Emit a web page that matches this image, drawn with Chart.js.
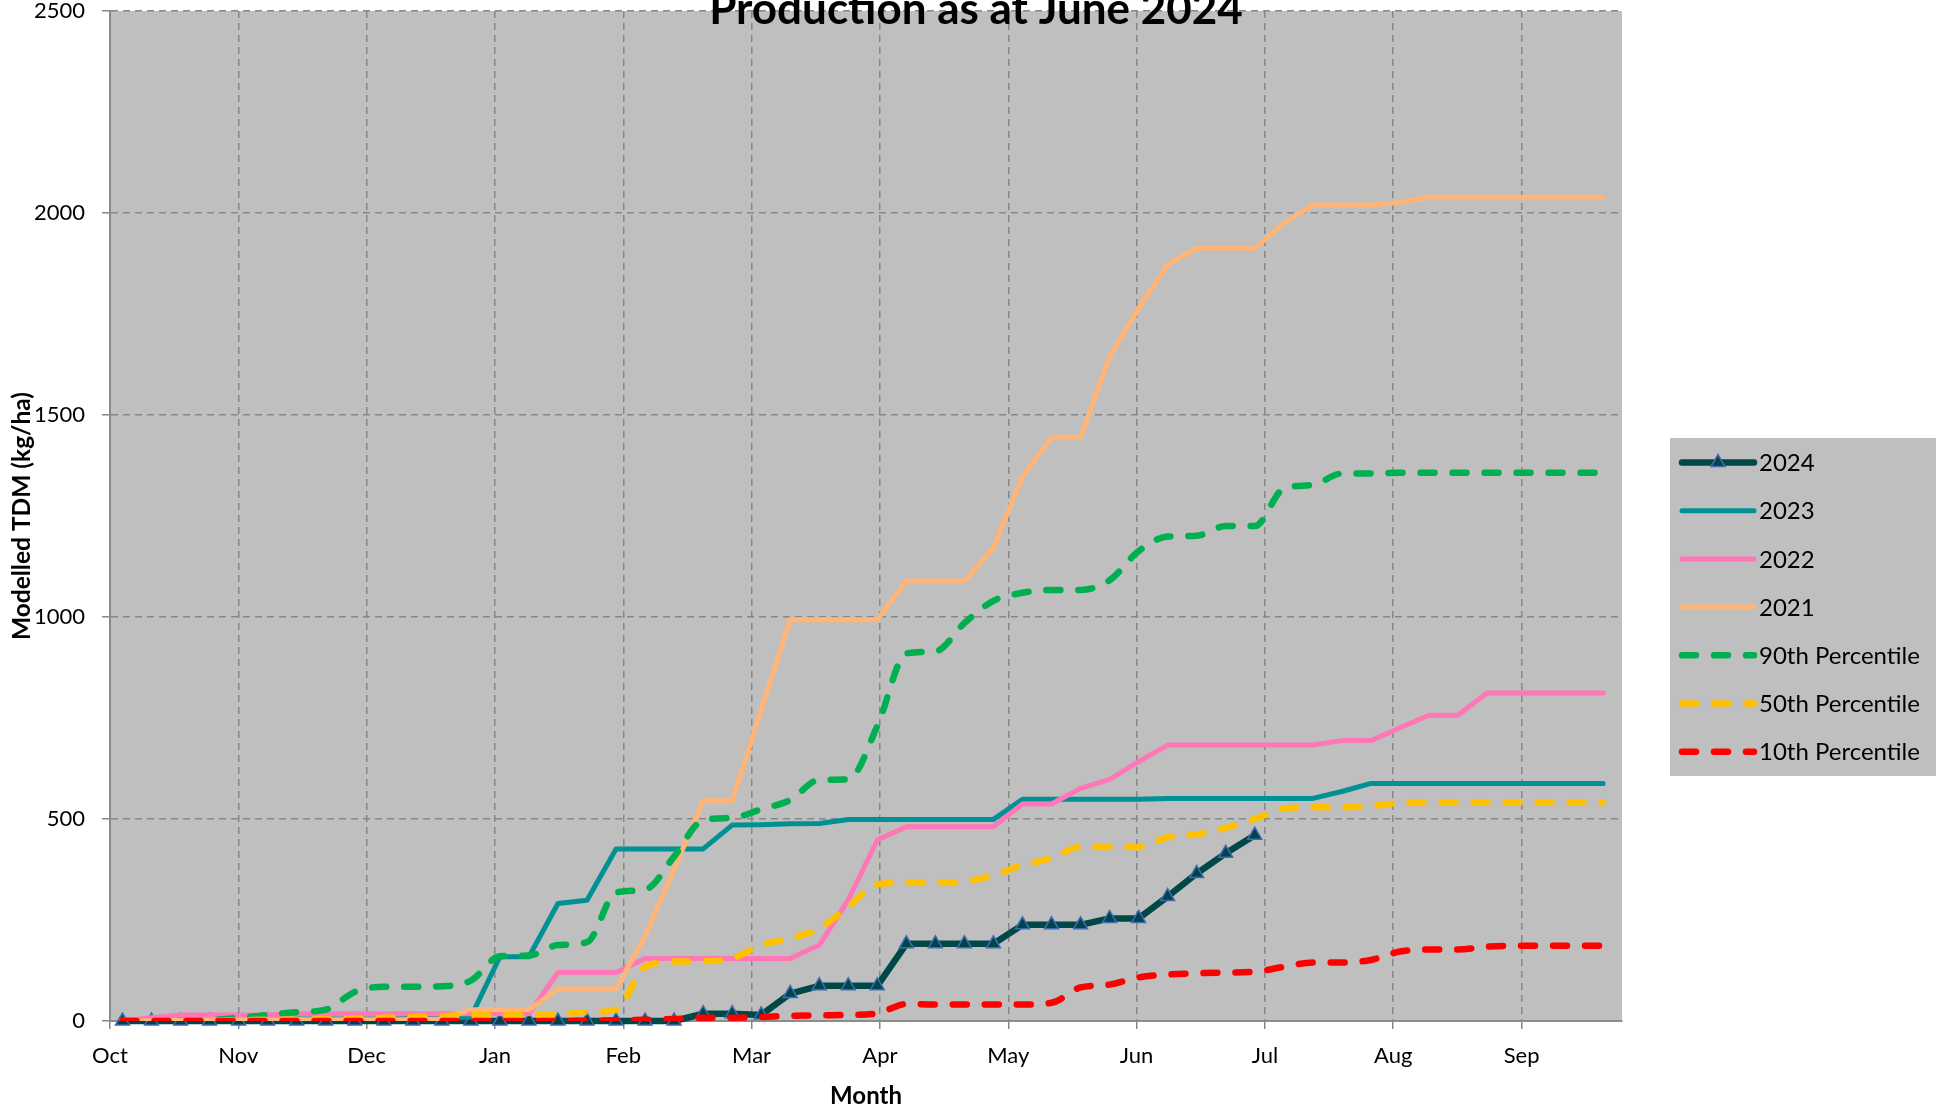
<!DOCTYPE html>
<html>
<head>
<meta charset="utf-8">
<title>Production as at June 2024</title>
<script src="https://cdn.jsdelivr.net/npm/chart.js@4.4.1/dist/chart.umd.min.js"></script>
<style>
  html, body { margin: 0; padding: 0; background: #fff; }
  #wrap { width: 1942px; height: 1113px; }
</style>
</head>
<body>
<div id="wrap"><canvas id="grafico" width="1942" height="1113"></canvas></div>
<script>
// semanas da temporada (out -> set)
const weeks = [1,2,3,4,5,6,7,8,9,10,11,12,13,14,15,16,17,18,19,20,21,22,23,24,25,26,
               27,28,29,30,31,32,33,34,35,36,37,38,39,40,41,42,43,44,45,46,47,48,49,50,51,52];
const monthLabels = ['Oct','Nov','Dec','Jan','Feb','Mar','Apr','May','Jun','Jul','Aug','Sep'];
// posicao de cada mes na escala de semanas
const monthTicks = [0.57,4.99,9.41,13.83,18.25,22.67,27.09,31.51,35.93,40.35,44.77,49.19];
const yTicks = [0,500,1000,1500,2000,2500];

const y2024 = [0,0,0,0,0,0,0,0,0,0, 0,0,0,0,0,0,0,0,0,0,
               18,18,15,68,87,87,87,191,191,191, 191,238,238,238,254,254,308,365,415,460];
const y2023 = [0,2,3,4,5,5,5,5,5,5, 6,6,10,159,159,291,299,426,426,426,
               426,485,486,488,489,499,499,499,499,499, 499,549,549,549,549,549,551,551,551,551,
               551,551,568,588,588,588,588,588,588,588, 588,588];
const y2022 = [0,8,15,15,15,15,18,18,18,18, 18,18,18,18,18,120,120,120,155,155,
               155,155,155,155,188,300,448,481,481,481, 481,537,537,576,598,642,683,683,683,683,
               683,683,694,694,726,757,757,812,812,812, 812,812];
const y2021 = [0,0,2,3,3,3,3,3,3,3, 3,5,28,28,28,79,79,79,210,375,
               545,545,770,993,993,993,993,1089,1089,1089, 1171,1347,1445,1445,1644,1764,1872,1913,1913,1913,
               1974,2020,2020,2020,2026,2039,2039,2039,2039,2039, 2039,2039];
const p90 = [0,0,0,2,8,15,22,28,72,85, 85,86,100,160,162,188,195,318,325,407,
             497,503,524,547,597,598,730,910,915,985, 1040,1060,1067,1067,1091,1163,1199,1201,1225,1225,
             1318,1327,1355,1355,1357,1357,1357,1357,1357,1357, 1357,1357];
const p50 = [0,0,0,1,2,3,4,5,6,8, 10,12,14,15,15,16,22,28,134,147,
             148,155,188,205,229,283,338,342,342,345, 361,386,403,431,431,431,455,462,478,500,
             526,529,529,532,539,540,540,540,540,540, 540,540];
const p10 = [0,0,0,0,0,0,0,0,0,0, 0,0,0,0,0,0,1,2,3,5,
             8,8,10,13,14,15,19,42,41,41, 41,41,45,83,90,108,115,118,120,122,
             134,145,145,151,172,177,177,184,186,186, 186,186];

const tituloTexto = 'Production as at June 2024';
const fonte = "Lato, 'Open Sans', sans-serif";

Chart.defaults.font.family = fonte;
Chart.defaults.font.size = 22;
Chart.defaults.color = '#000';

function linhaAno(label, data, cor, ordem) {
    return {
        label: label, data: data, borderColor: cor, backgroundColor: cor,
        borderWidth: 5, pointRadius: 0, tension: 0, order: ordem,
        borderJoinStyle: 'round', borderCapStyle: 'round'
    };
}
function linhaPercentil(label, data, cor, ordem) {
    return {
        label: label, data: data, borderColor: cor, backgroundColor: cor,
        borderWidth: 6.5, borderDash: [14, 18], borderCapStyle: 'round', borderJoinStyle: 'round',
        pointRadius: 0, cubicInterpolationMode: 'monotone', order: ordem
    };
}

// fundo cinza da area do grafico
const fundoPlot = {
    id: 'fundoPlot',
    beforeDraw(chart) {
        const { ctx, chartArea: a } = chart;
        ctx.save();
        ctx.fillStyle = '#bfbfbf';
        ctx.fillRect(a.left, a.top, a.right - a.left, a.bottom - a.top);
        ctx.restore();
    }
};

// titulo cortado no topo, por cima da area
const tituloTopo = {
    id: 'tituloTopo',
    afterDraw(chart) {
        const ctx = chart.ctx;
        ctx.save();
        ctx.font = `bold 44px ${fonte}`;
        ctx.fillStyle = '#000';
        ctx.textAlign = 'center';
        ctx.textBaseline = 'alphabetic';
        ctx.fillText(tituloTexto, chart.width / 2 + 5, 24);
        ctx.restore();
    }
};

// legenda com caixa cinza a direita
const legendaCaixa = {
    id: 'legendaCaixa',
    afterDraw(chart) {
        const ctx = chart.ctx;
        const x0 = chart.width - 272, y0 = 438, w = 266, h = 338, passo = 48.2;
        ctx.save();
        ctx.fillStyle = '#bfbfbf';
        ctx.fillRect(x0, y0, w, h);
        chart.data.datasets.forEach((ds, i) => {
            const cy = y0 + 24.5 + i * passo;
            const a = x0 + 12, b = x0 + 84;
            ctx.save();
            ctx.strokeStyle = ds.borderColor;
            ctx.lineWidth = ds.borderWidth;
            ctx.lineCap = 'round';
            ctx.setLineDash(ds.borderDash || []);
            ctx.beginPath();
            ctx.moveTo(a, cy);
            ctx.lineTo(b, cy);
            ctx.stroke();
            ctx.restore();
            if (ds.pointStyle === 'triangle') {
                const r = ds.pointRadius, cx = (a + b) / 2;
                ctx.beginPath();
                ctx.moveTo(cx, cy - r);
                ctx.lineTo(cx + 0.866 * r, cy + 0.5 * r);
                ctx.lineTo(cx - 0.866 * r, cy + 0.5 * r);
                ctx.closePath();
                ctx.fillStyle = ds.pointBackgroundColor;
                ctx.fill();
                ctx.lineWidth = ds.pointBorderWidth;
                ctx.strokeStyle = ds.pointBorderColor;
                ctx.stroke();
            }
            ctx.fillStyle = '#000';
            ctx.font = `24px ${fonte}`;
            ctx.textAlign = 'left';
            ctx.textBaseline = 'middle';
            ctx.fillText(ds.label, x0 + 89, cy + 1);
        });
        ctx.restore();
    }
};

const ctx = document.getElementById('grafico').getContext('2d');

const serie2024 = linhaAno('2024', y2024, '#004848', 6);
Object.assign(serie2024, {
    borderWidth: 6.5, pointStyle: 'triangle', pointRadius: 8,
    pointBackgroundColor: '#00434a', pointBorderColor: '#3d6cb0', pointBorderWidth: 1.5,
    clip: false
});

new Chart(ctx, {
    type: 'line',
    data: {
        labels: weeks,
        datasets: [
            serie2024,
            linhaAno('2023', y2023, '#009194', 5),
            linhaAno('2022', y2022, '#ff77b6', 4),
            linhaAno('2021', y2021, '#ffb577', 3),
            linhaPercentil('90th Percentile', p90, '#00b050', 2),
            linhaPercentil('50th Percentile', p50, '#ffc000', 1),
            linhaPercentil('10th Percentile', p10, '#ff0000', 0)
        ]
    },
    options: {
        responsive: false,
        animation: false,
        devicePixelRatio: 1,
        layout: { padding: { left: 0, right: 320, top: 11, bottom: 0 } },
        plugins: {
            legend: { display: false },
            title: { display: false },
            tooltip: { enabled: false }
        },
        scales: {
            x: {
                type: 'linear',
                min: 0.57,
                max: 52.65,
                afterFit: s => { s.height = 92; },
                afterBuildTicks: s => { s.ticks = monthTicks.map(v => ({ value: v })); },
                ticks: {
                    autoSkip: false, maxRotation: 0, padding: 14,
                    callback: (v, i) => monthLabels[i]
                },
                grid: {
                    color: '#878787', lineWidth: 1.5, tickLength: 8,
                    tickBorderDash: [], tickColor: '#878787'
                },
                border: { display: true, color: '#8c8c8c', width: 2, dash: [7, 5] },
                title: {
                    display: true, text: 'Month',
                    font: { size: 24, weight: 'bold' },
                    padding: { top: 0, bottom: 2 }
                }
            },
            y: {
                min: 0,
                max: 2500,
                afterFit: s => { s.width = 110; s.paddingTop = 0; s.paddingBottom = 0; },
                afterBuildTicks: s => { s.ticks = yTicks.map(v => ({ value: v })); },
                ticks: {
                    padding: 17, font: { size: 22, lineHeight: 1 },
                    callback: v => String(v)
                },
                grid: {
                    color: '#878787', lineWidth: 1.5, tickLength: 8,
                    tickBorderDash: [], tickColor: '#878787'
                },
                border: { display: true, color: '#8c8c8c', width: 2, dash: [7, 5] },
                title: {
                    display: true, text: 'Modelled TDM (kg/ha)',
                    font: { size: 24.5, weight: 'bold' },
                    padding: { top: 7, bottom: 0 }
                }
            }
        }
    },
    plugins: [fundoPlot, tituloTopo, legendaCaixa]
});
</script>
</body>
</html>
